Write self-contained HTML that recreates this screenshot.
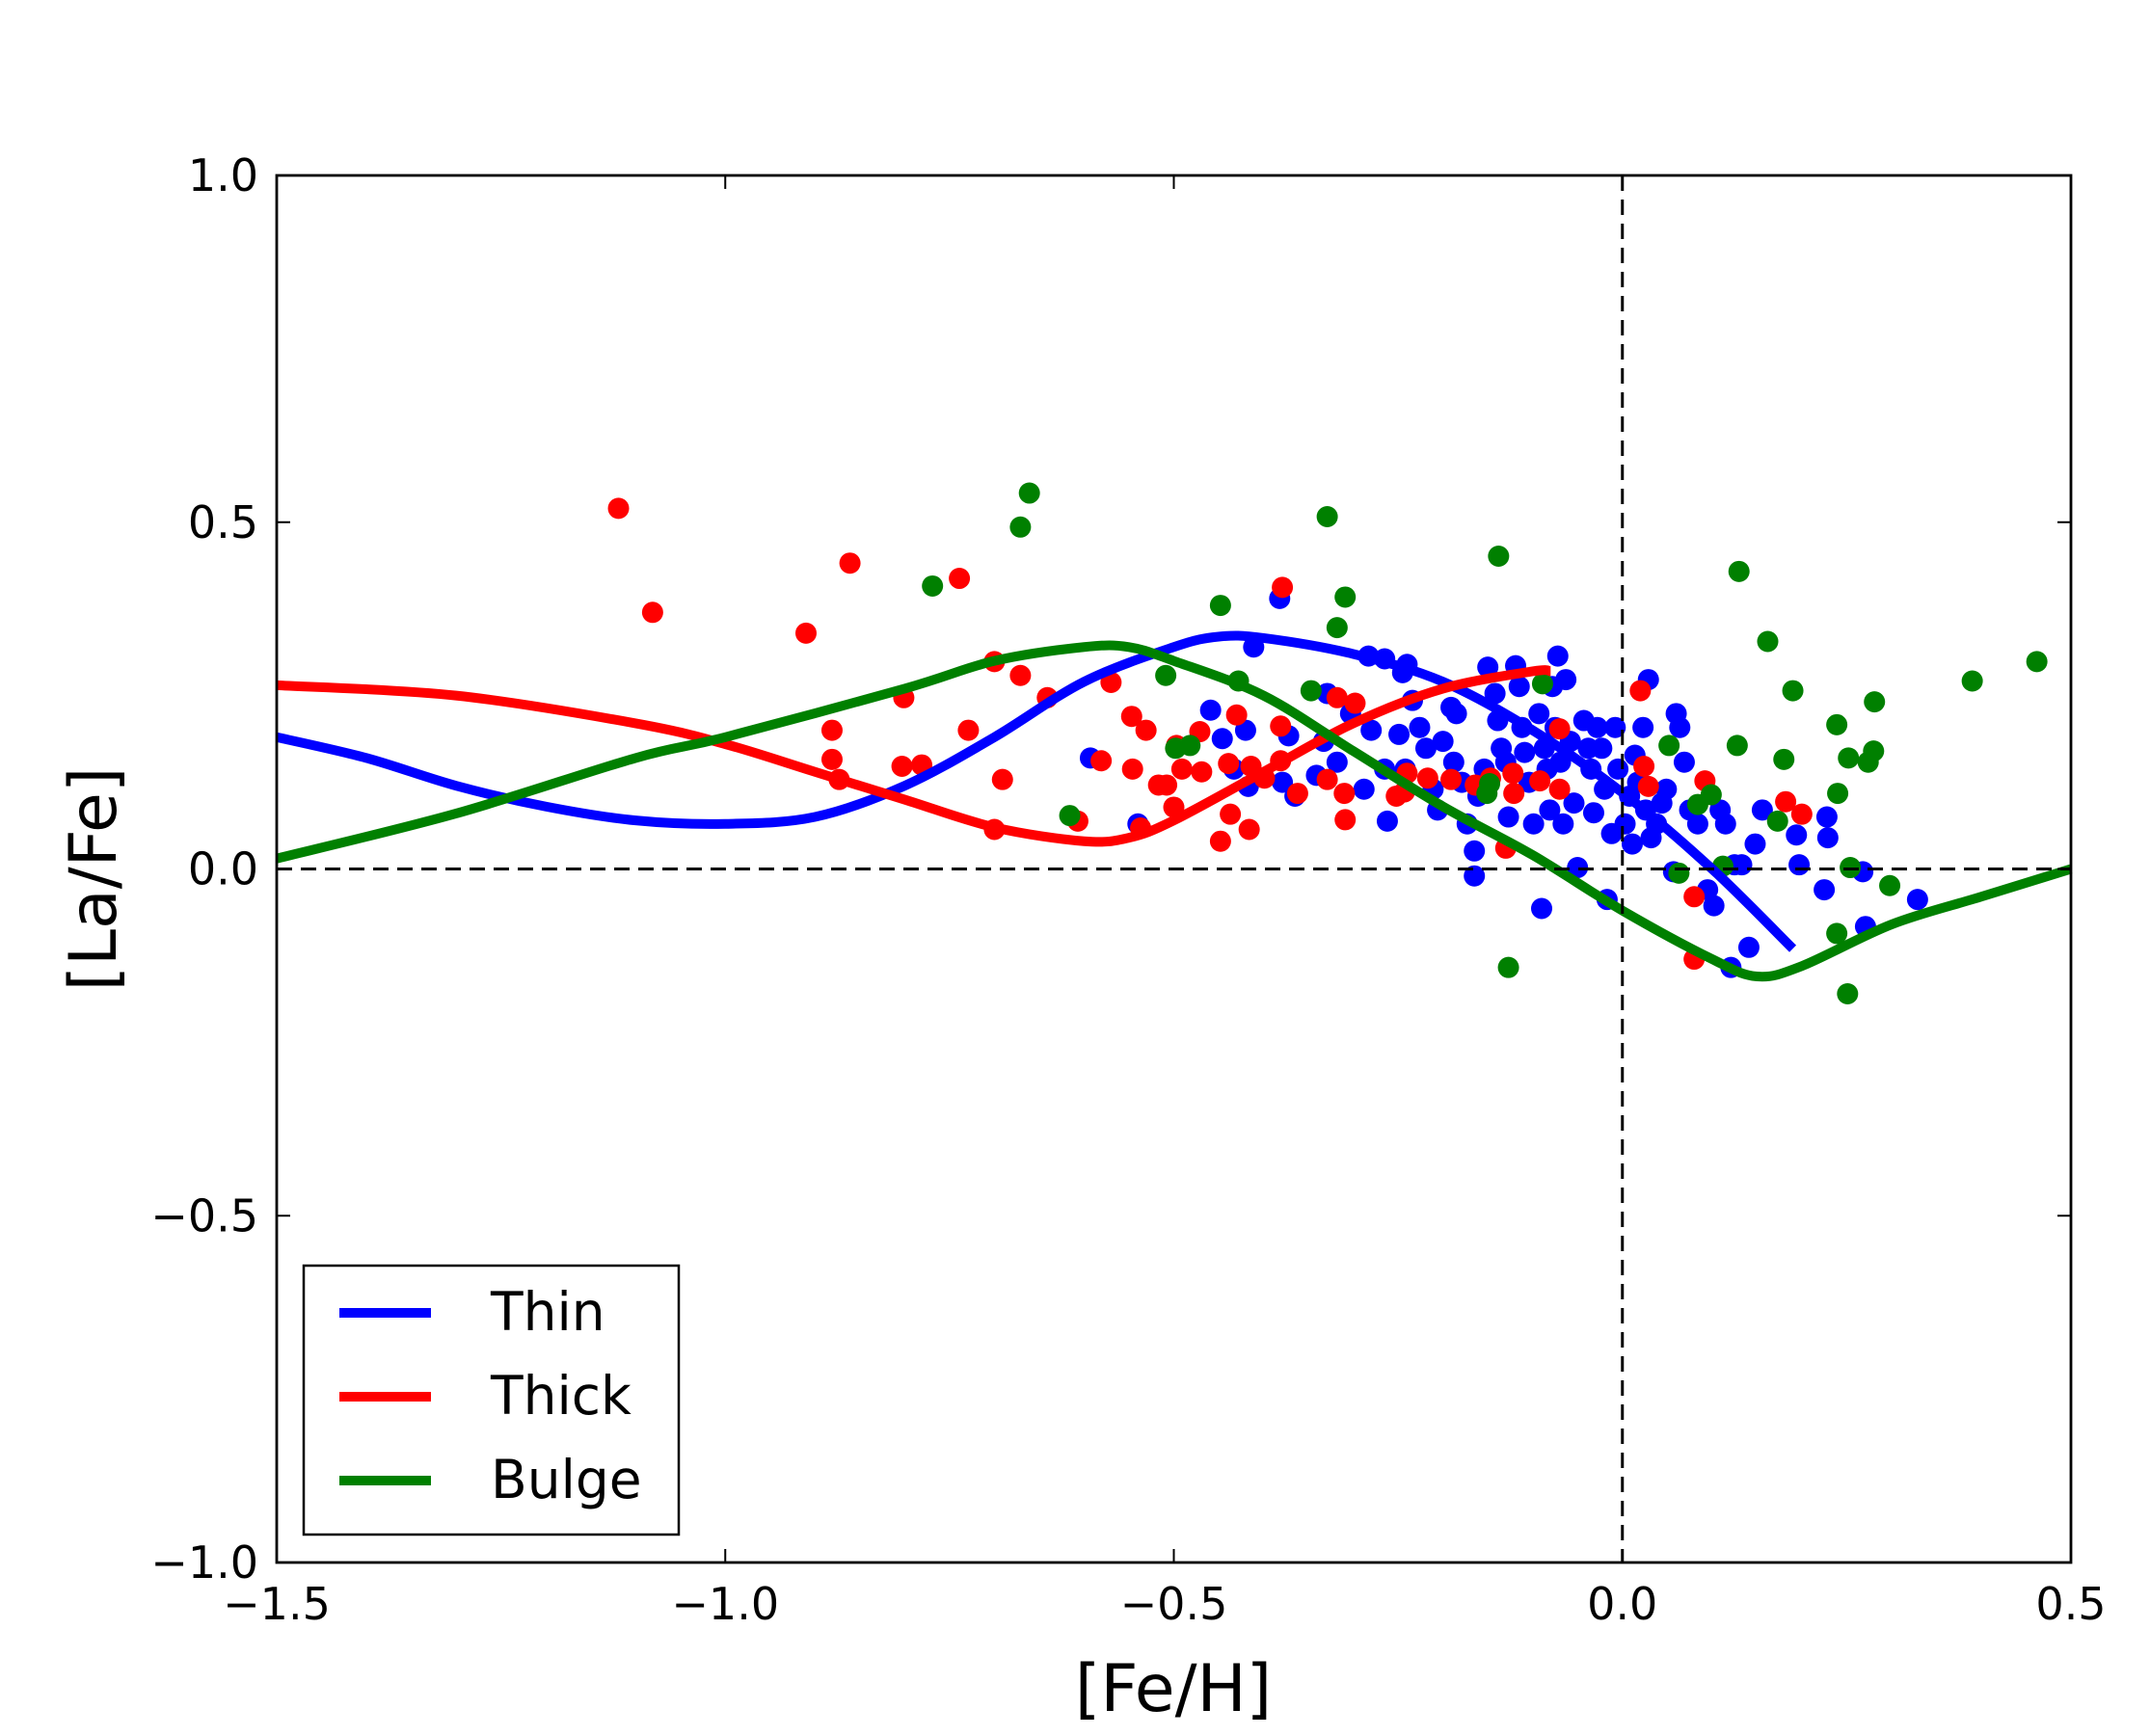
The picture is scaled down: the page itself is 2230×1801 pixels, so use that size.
<!DOCTYPE html>
<html><head><meta charset="utf-8"><style>
html,body{margin:0;padding:0;background:#fff;}
svg{display:block;font-family:"DejaVu Sans","Liberation Sans",sans-serif;}
</style></head><body>
<svg id="chart" width="2230" height="1801" viewBox="0 0 2230 1801" xmlns="http://www.w3.org/2000/svg">
<rect width="2230" height="1801" fill="#fff"/>
<g id="points"></g>
<g id="lines"></g>
<g id="axes"></g>
<g>
<rect x="315" y="1313" width="389" height="279" fill="#fff" stroke="#000" stroke-width="2.5"/>
<line x1="352" y1="1362" x2="447" y2="1362" stroke="#0000ff" stroke-width="10"/>
<text x="509" y="1380" font-size="55">Thin</text>
<line x1="352" y1="1449" x2="447" y2="1449" stroke="#ff0000" stroke-width="10"/>
<text x="509" y="1467" font-size="55">Thick</text>
<line x1="352" y1="1536" x2="447" y2="1536" stroke="#008000" stroke-width="10"/>
<text x="509" y="1554" font-size="55">Bulge</text>
</g>
<text x="1217" y="1775" font-size="68" text-anchor="middle">[Fe/H]</text>
<text transform="translate(120,912) rotate(-90)" font-size="68" text-anchor="middle">[La/Fe]</text>
</svg>
<script>
const xTicks=[-1.5,-1.0,-0.5,0.0,0.5];
const xTickLabels=["−1.5","−1.0","−0.5","0.0","0.5"];
const yTicks=[-1.0,-0.5,0.0,0.5,1.0];
const yTickLabels=["−1.0","−0.5","0.0","0.5","1.0"];
const thinX=[-1.5,-1.4,-1.3,-1.2,-1.1,-1.0,-0.9,-0.8,-0.7,-0.6,-0.5,-0.45,-0.4,-0.3,-0.2,-0.1,0.0,0.1,0.19];
const thinY=[0.19,0.16,0.12,0.09,0.07,0.065,0.075,0.12,0.19,0.27,0.32,0.335,0.333,0.31,0.27,0.20,0.11,0.0,-0.115];
const thickX=[-1.5,-1.3,-1.1,-1.0,-0.9,-0.8,-0.7,-0.6,-0.55,-0.5,-0.4,-0.3,-0.2,-0.1,-0.08];
const thickY=[0.265,0.25,0.21,0.18,0.14,0.10,0.06,0.04,0.045,0.07,0.14,0.21,0.26,0.285,0.285];
const bulgeX=[-1.5,-1.3,-1.1,-1.0,-0.8,-0.7,-0.6,-0.55,-0.5,-0.4,-0.3,-0.2,-0.1,0.0,0.1,0.15,0.2,0.3,0.4,0.5];
const bulgeY=[0.015,0.08,0.16,0.19,0.26,0.30,0.32,0.32,0.30,0.25,0.17,0.09,0.02,-0.06,-0.13,-0.155,-0.14,-0.08,-0.04,0.0];
const thinPtsX=[-0.382,-0.411,-0.459,-0.446,-0.420,-0.433,-0.417,-0.379,-0.372,-0.365,-0.341,-0.333,-0.329,-0.318,-0.303,-0.280,-0.288,-0.265,-0.262,-0.249,-0.242,-0.234,-0.226,-0.219,-0.211,-0.206,-0.200,-0.191,-0.185,-0.188,-0.179,-0.173,-0.165,-0.165,-0.161,-0.154,-0.150,-0.142,-0.139,-0.135,-0.130,-0.127,-0.119,-0.115,-0.112,-0.109,-0.104,-0.099,-0.093,-0.090,-0.087,-0.084,-0.081,-0.078,-0.075,-0.072,-0.069,-0.066,-0.063,-0.058,-0.054,-0.050,-0.043,-0.038,-0.035,-0.032,-0.028,-0.023,-0.020,-0.012,-0.017,-0.008,-0.005,0.003,0.008,0.011,0.014,0.017,0.023,0.026,0.029,0.032,0.038,0.044,0.049,0.057,0.060,0.064,0.069,0.075,0.084,0.095,0.102,0.109,0.115,0.121,0.125,0.133,0.141,0.148,0.156,0.194,0.197,0.225,0.228,0.229,0.268,0.271,0.329,-0.593,-0.540,-0.240,-0.265,-0.283,-0.245];
const thinPtsY=[0.390,0.320,0.229,0.188,0.200,0.144,0.119,0.125,0.192,0.105,0.135,0.184,0.253,0.154,0.224,0.200,0.115,0.144,0.069,0.194,0.144,0.243,0.204,0.174,0.115,0.085,0.184,0.233,0.224,0.154,0.125,0.065,0.026,-0.010,0.105,0.144,0.291,0.253,0.214,0.174,0.154,0.075,0.293,0.263,0.204,0.168,0.125,0.065,0.224,-0.057,0.174,0.144,0.085,0.263,0.204,0.307,0.154,0.065,0.273,0.184,0.095,0.002,0.214,0.174,0.144,0.081,0.204,0.174,0.115,0.051,-0.044,0.204,0.144,0.065,0.105,0.036,0.164,0.125,0.204,0.085,0.273,0.045,0.065,0.095,0.115,-0.004,0.224,0.204,0.154,0.085,0.065,-0.030,-0.053,0.085,0.065,-0.142,0.006,0.006,-0.113,0.036,0.085,0.049,0.006,-0.030,0.075,0.045,-0.004,-0.083,-0.044,0.160,0.065,0.295,0.303,0.307,0.283];
const thickPtsX=[-1.119,-1.081,-0.910,-0.861,-0.739,-0.881,-0.881,-0.873,-0.801,-0.803,-0.781,-0.729,-0.691,-0.700,-0.671,-0.700,-0.641,-0.581,-0.570,-0.547,-0.531,-0.546,-0.517,-0.508,-0.500,-0.537,-0.497,-0.471,-0.491,-0.469,-0.448,-0.437,-0.416,-0.430,-0.439,-0.414,-0.399,-0.381,-0.379,-0.381,-0.362,-0.329,-0.318,-0.298,-0.310,-0.309,-0.252,-0.243,-0.240,-0.217,-0.191,-0.164,-0.147,-0.122,-0.121,-0.130,-0.092,-0.070,-0.070,0.020,0.024,0.029,0.080,0.080,0.092,0.182,0.200,-0.607];
const thickPtsY=[0.52,0.37,0.34,0.441,0.419,0.20,0.158,0.129,0.247,0.148,0.150,0.20,0.129,0.057,0.279,0.299,0.247,0.156,0.269,0.22,0.20,0.144,0.121,0.121,0.089,0.059,0.178,0.198,0.144,0.140,0.04,0.079,0.057,0.222,0.152,0.148,0.131,0.156,0.406,0.206,0.109,0.129,0.247,0.239,0.109,0.071,0.105,0.111,0.138,0.131,0.129,0.121,0.131,0.138,0.109,0.03,0.127,0.115,0.202,0.257,0.148,0.119,-0.04,-0.13,0.127,0.097,0.079,0.069];
const bulgePtsX=[-0.661,-0.671,-0.769,-0.329,-0.309,-0.318,-0.448,-0.509,-0.428,-0.347,-0.498,-0.482,-0.616,-0.138,-0.127,0.130,0.162,0.190,0.239,0.281,0.180,0.252,0.274,0.280,0.240,0.084,0.052,0.099,0.063,0.112,0.173,0.128,0.254,0.298,0.239,0.251,0.390,0.462,-0.148,-0.151,-0.089];
const bulgePtsY=[0.542,0.493,0.408,0.508,0.392,0.348,0.380,0.279,0.271,0.257,0.174,0.178,0.077,0.451,-0.142,0.429,0.328,0.257,0.208,0.241,0.158,0.160,0.154,0.170,0.109,0.093,0.178,0.107,-0.006,0.004,0.069,0.178,0.002,-0.024,-0.093,-0.180,0.271,0.299,0.123,0.109,0.267];

const L=287,R=2148,T=182,B=1621,xmin=-1.5,xmax=0.5,ymin=-1,ymax=1;
function X(v){return L+(v-xmin)/(xmax-xmin)*(R-L);}
function Y(v){return B-(v-ymin)/(ymax-ymin)*(B-T);}
const NS="http://www.w3.org/2000/svg";
function mk(tag,attrs,parent){const e=document.createElementNS(NS,tag);for(const k in attrs)e.setAttribute(k,attrs[k]);parent.appendChild(e);return e;}
const pts=document.getElementById('points'),lines=document.getElementById('lines'),axes=document.getElementById('axes');

function scatter(xs,ys,color,name){
  for(let i=0;i<xs.length;i++){
    const c=mk('circle',{cx:X(xs[i]),cy:Y(ys[i]),r:11,fill:color},pts);
    
    
  }
}
scatter(thinPtsX,thinPtsY,'#0000ff','thin-point');
scatter(thickPtsX,thickPtsY,'#ff0000','thick-point');
scatter(bulgePtsX,bulgePtsY,'#008000','bulge-point');

function curve(xs,ys,color,name){
  const p=xs.map((x,i)=>[X(x),Y(ys[i])]);
  let d='M'+p[0][0]+','+p[0][1];
  for(let i=0;i<p.length-1;i++){
    const p0=p[Math.max(i-1,0)],p1=p[i],p2=p[i+1],p3=p[Math.min(i+2,p.length-1)];
    const c1=[p1[0]+(p2[0]-p0[0])/6,p1[1]+(p2[1]-p0[1])/6];
    const c2=[p2[0]-(p3[0]-p1[0])/6,p2[1]-(p3[1]-p1[1])/6];
    d+=' C'+c1[0]+','+c1[1]+' '+c2[0]+','+c2[1]+' '+p2[0]+','+p2[1];
  }
  const e=mk('path',{d:d,fill:'none',stroke:color,'stroke-width':10,'stroke-linejoin':'round'},lines);
  
  
}
curve(thinX,thinY,'#0000ff','thin-curve');
curve(thickX,thickY,'#ff0000','thick-curve');
curve(bulgeX,bulgeY,'#008000','bulge-curve');

const h=mk('line',{x1:L,x2:R,y1:Y(0),y2:Y(0),stroke:'#000','stroke-width':3,'stroke-dasharray':'16,9'},axes);


const v=mk('line',{x1:X(0),x2:X(0),y1:T,y2:B,stroke:'#000','stroke-width':3,'stroke-dasharray':'16,9'},axes);



const frame=mk('rect',{x:L,y:T,width:R-L,height:B-T,fill:'none',stroke:'#000','stroke-width':2.8},axes);



xTicks.forEach((t,i)=>{
  const x=X(t);
  mk('line',{x1:x,x2:x,y1:B,y2:B-14,stroke:'#000','stroke-width':2},axes);
  mk('line',{x1:x,x2:x,y1:T,y2:T+14,stroke:'#000','stroke-width':2},axes);
  const tx=mk('text',{x:x,y:1680,'font-size':46,'text-anchor':'middle'},axes);
  tx.textContent=xTickLabels[i];
  
  
});
yTicks.forEach((t,i)=>{
  const y=Y(t);
  mk('line',{x1:L,x2:L+14,y1:y,y2:y,stroke:'#000','stroke-width':2},axes);
  mk('line',{x1:R,x2:R-14,y1:y,y2:y,stroke:'#000','stroke-width':2},axes);
  const tx=mk('text',{x:268,y:y+16,'font-size':46,'text-anchor':'end'},axes);
  tx.textContent=yTickLabels[i];
  
  
});
</script>
</body></html>
